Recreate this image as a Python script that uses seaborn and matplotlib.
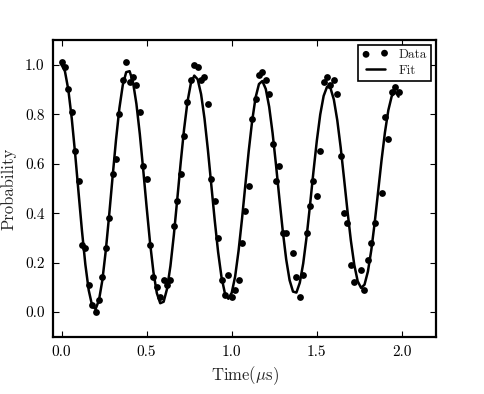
import numpy as np
import pandas as pd
import matplotlib
matplotlib.use('Agg')
import matplotlib.pyplot as plt
import seaborn as sns

# measured points (time in us, probability)
data_t = [0.00, 0.02, 0.04, 0.06, 0.08, 0.10, 0.12, 0.14, 0.16, 0.18,
          0.20, 0.22, 0.24, 0.26, 0.28, 0.30, 0.32, 0.34, 0.36, 0.38,
          0.40, 0.42, 0.44, 0.46, 0.48, 0.50, 0.52, 0.54, 0.56, 0.58,
          0.60, 0.62, 0.64, 0.66, 0.68, 0.70, 0.72, 0.74, 0.76, 0.78,
          0.80, 0.82, 0.84, 0.86, 0.88, 0.90, 0.92, 0.94, 0.96, 0.98,
          1.00, 1.02, 1.04, 1.06, 1.08, 1.10, 1.12, 1.14, 1.16, 1.18,
          1.20, 1.22, 1.24, 1.26, 1.28, 1.30, 1.32, 1.36, 1.38, 1.40,
          1.42, 1.44, 1.46, 1.48, 1.50, 1.52, 1.54, 1.56, 1.58, 1.60,
          1.62, 1.64, 1.66, 1.68, 1.70, 1.72, 1.76, 1.78, 1.80, 1.82,
          1.84, 1.88, 1.90, 1.92, 1.94, 1.96, 1.98]
data_p = [1.01, 0.99, 0.90, 0.81, 0.65, 0.53, 0.27, 0.26, 0.11, 0.03,
          0.00, 0.05, 0.14, 0.26, 0.38, 0.56, 0.62, 0.80, 0.94, 1.01,
          0.93, 0.95, 0.92, 0.81, 0.59, 0.54, 0.27, 0.14, 0.10, 0.06,
          0.13, 0.11, 0.13, 0.35, 0.45, 0.56, 0.71, 0.85, 0.94, 1.00,
          0.99, 0.94, 0.95, 0.84, 0.54, 0.45, 0.30, 0.13, 0.07, 0.15,
          0.06, 0.09, 0.13, 0.28, 0.41, 0.51, 0.78, 0.86, 0.96, 0.97,
          0.94, 0.88, 0.68, 0.53, 0.59, 0.32, 0.32, 0.24, 0.14, 0.06,
          0.15, 0.32, 0.43, 0.53, 0.47, 0.65, 0.93, 0.95, 0.92, 0.94,
          0.88, 0.63, 0.40, 0.36, 0.19, 0.12, 0.17, 0.09, 0.21, 0.28,
          0.36, 0.48, 0.79, 0.70, 0.89, 0.91, 0.89]

# fit curve, every 0.02 us
fit_t = [round(0.02 * i, 2) for i in range(100)]
fit_p = [1.000, 0.974, 0.899, 0.784, 0.641, 0.484, 0.330, 0.193, 0.088, 0.026,
         0.012, 0.048, 0.129, 0.248, 0.392, 0.546, 0.695, 0.824, 0.918, 0.970,
         0.974, 0.930, 0.842, 0.720, 0.576, 0.425, 0.282, 0.162, 0.077, 0.036,
         0.042, 0.094, 0.187, 0.312, 0.456, 0.603, 0.739, 0.850, 0.925, 0.956,
         0.941, 0.881, 0.783, 0.656, 0.514, 0.372, 0.243, 0.141, 0.076, 0.054,
         0.078, 0.144, 0.247, 0.374, 0.514, 0.652, 0.773, 0.867, 0.922, 0.934,
         0.902, 0.830, 0.724, 0.596, 0.459, 0.327, 0.213, 0.129, 0.083, 0.079,
         0.119, 0.197, 0.305, 0.433, 0.567, 0.693, 0.799, 0.874, 0.911, 0.906,
         0.859, 0.776, 0.666, 0.539, 0.409, 0.289, 0.191, 0.125, 0.098, 0.111,
         0.164, 0.251, 0.362, 0.487, 0.613, 0.726, 0.816, 0.873, 0.892, 0.871]

df_data = pd.DataFrame({'t': data_t, 'p': data_p})
df_fit = pd.DataFrame({'t': fit_t, 'p': fit_p})

sns.set_style('ticks')
plt.rcParams['font.family'] = 'serif'
plt.rcParams['font.serif'] = ['cmr10', 'DejaVu Serif']
plt.rcParams['mathtext.fontset'] = 'cm'
plt.rcParams['axes.formatter.use_mathtext'] = True

fig = plt.figure(figsize=(4.84, 3.94), dpi=100)
ax = fig.add_axes([0.1095, 0.145, 0.7913, 0.7535])

sns.scatterplot(data=df_data, x='t', y='p', ax=ax, color='black', s=24,
                edgecolor='black', linewidth=0, label='Data', zorder=3)
sns.lineplot(data=df_fit, x='t', y='p', ax=ax, color='black', linewidth=1.8,
             label='Fit', zorder=2)

ax.set_xlim(-0.05, 2.2)
ax.set_ylim(-0.1, 1.1)
ax.set_xticks([0.0, 0.5, 1.0, 1.5, 2.0])
ax.set_yticks([0.0, 0.2, 0.4, 0.6, 0.8, 1.0])
ax.set_xticklabels(['0.0', '0.5', '1.0', '1.5', '2.0'])
ax.set_yticklabels(['0.0', '0.2', '0.4', '0.6', '0.8', '1.0'])
ax.set_xlabel(r'Time($\mu$s)', fontsize=12, labelpad=4)
ax.set_ylabel('Probability', fontsize=12, labelpad=6)
ax.tick_params(direction='in', top=True, right=True, length=4, width=0.8,
               labelsize=11, pad=6, colors='black')
for sp in ax.spines.values():
    sp.set_linewidth(1.6)
    sp.set_color('black')

leg = ax.legend(loc='upper right', fontsize=9.5, numpoints=2, scatterpoints=2,
                fancybox=False, framealpha=1, borderaxespad=0.35,
                handlelength=2.0, borderpad=0.3, labelspacing=0.3,
                handletextpad=0.8)
leg.get_frame().set_edgecolor('black')
leg.get_frame().set_linewidth(1.2)

fig.savefig('out.png', dpi=100)
